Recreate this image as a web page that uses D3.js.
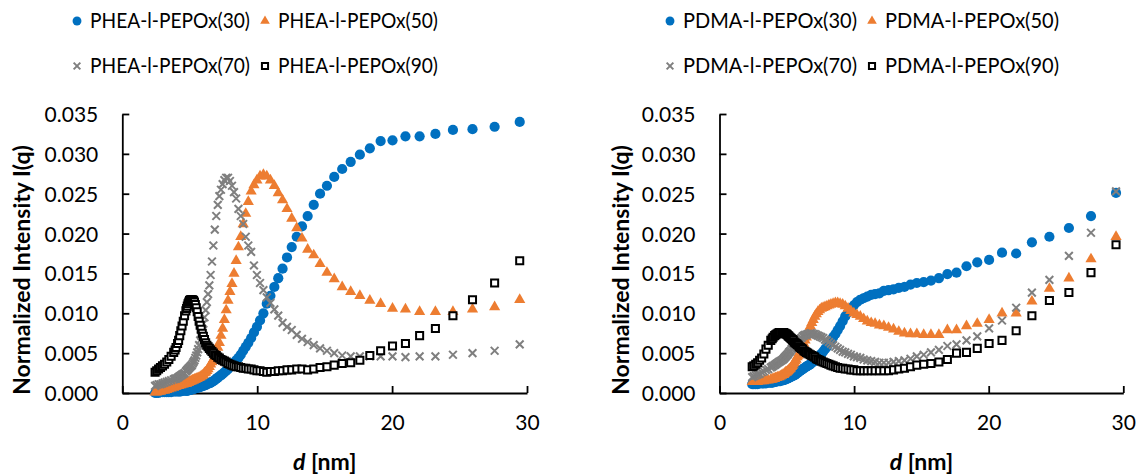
<!DOCTYPE html>
<html lang="en">
<head>
<meta charset="UTF-8" />
<title>SAXS d plot</title>
<script src="https://cdn.jsdelivr.net/npm/d3@7"></script>
<style>
  body { margin: 0; padding: 0; background: #fff; }
  text { font-family: Lato, "Noto Sans", sans-serif; fill: #000; }
</style>
</head>
<body>
<script>
// d spacing of the measured points [nm]
const dGrid = [2.43, 2.55, 2.69, 2.83, 2.98, 3.13, 3.295, 3.45, 3.62, 3.81,
  3.914, 3.985, 4.097, 4.175, 4.257, 4.34, 4.429, 4.52, 4.616, 4.715,
  4.766, 4.819, 4.872, 4.927, 4.983, 5.041, 5.099, 5.159, 5.221, 5.284,
  5.349, 5.415, 5.482, 5.552, 5.623, 5.696, 5.772, 5.849, 5.928, 6.009,
  6.093, 6.179, 6.267, 6.358, 6.452, 6.548, 6.648, 6.750, 6.856, 6.965,
  7.078, 7.194, 7.314, 7.438, 7.567, 7.700, 7.838, 7.98, 8.13, 8.28,
  8.44, 8.61, 8.78, 8.96, 9.15, 9.34, 9.55, 9.76, 9.98, 10.21,
  10.46, 10.71, 10.98, 11.27, 11.56, 11.88, 12.21, 12.56, 12.93, 13.32,
  13.74, 14.19, 14.66, 15.17, 15.71, 16.30, 16.93, 17.61, 18.35, 19.15,
  20.03, 20.99, 22.04, 23.21, 24.51, 25.96, 27.60, 29.46];

// PHEA-l-PEPOx
const phea30 = [0.0000, 0.0000, 0.0000, 0.0001, 0.0001, 0.0001, 0.0001, 0.0001, 0.0001, 0.0002,
  0.0002, 0.0002, 0.0002, 0.0002, 0.0002, 0.0002, 0.0003, 0.0003, 0.0003, 0.0003,
  0.0003, 0.0003, 0.0003, 0.0004, 0.0004, 0.0004, 0.0004, 0.0005, 0.0005, 0.0005,
  0.0006, 0.0006, 0.0006, 0.0007, 0.0007, 0.0007, 0.0008, 0.0008, 0.0009, 0.0009,
  0.0010, 0.0010, 0.0011, 0.0012, 0.0012, 0.0013, 0.0014, 0.0015, 0.0016, 0.0018,
  0.0019, 0.0021, 0.0022, 0.0024, 0.0026, 0.0028, 0.0030, 0.0033, 0.0035, 0.0038,
  0.0041, 0.0044, 0.0048, 0.0053, 0.0058, 0.0063, 0.0069, 0.0076, 0.0083, 0.0091,
  0.0100, 0.0112, 0.0122, 0.0133, 0.0144, 0.0156, 0.0170, 0.0183, 0.0196, 0.0209,
  0.0222, 0.0236, 0.0250, 0.0260, 0.0271, 0.0281, 0.0290, 0.0299, 0.0307, 0.0316,
  0.0317, 0.0322, 0.0322, 0.0325, 0.0330, 0.0331, 0.0334, 0.0340];
const phea50 = [0.0001, 0.0001, 0.0002, 0.0002, 0.0003, 0.0003, 0.0004, 0.0005, 0.0006, 0.0007,
  0.0008, 0.0008, 0.0009, 0.0009, 0.0010, 0.0010, 0.0011, 0.0011, 0.0012, 0.0012,
  0.0012, 0.0013, 0.0013, 0.0013, 0.0014, 0.0014, 0.0015, 0.0015, 0.0016, 0.0016,
  0.0017, 0.0017, 0.0018, 0.0018, 0.0019, 0.0019, 0.0020, 0.0021, 0.0022, 0.0023,
  0.0025, 0.0026, 0.0028, 0.0030, 0.0033, 0.0036, 0.0039, 0.0042, 0.0046, 0.0051,
  0.0057, 0.0063, 0.0072, 0.0081, 0.0092, 0.0104, 0.0116, 0.0127, 0.0137, 0.0150,
  0.0166, 0.0183, 0.0196, 0.0212, 0.0225, 0.0240, 0.0253, 0.0261, 0.0267, 0.0272,
  0.0274, 0.0272, 0.0267, 0.0260, 0.0251, 0.0242, 0.0231, 0.0219, 0.0207, 0.0194,
  0.0180, 0.0173, 0.0162, 0.0151, 0.0143, 0.0133, 0.0127, 0.0122, 0.0116, 0.0112,
  0.0106, 0.0105, 0.0102, 0.0102, 0.0102, 0.0105, 0.0108, 0.0117];
const phea70 = [0.0009, 0.0010, 0.0011, 0.0011, 0.0012, 0.0013, 0.0014, 0.0015, 0.0016, 0.0017,
  0.0018, 0.0018, 0.0019, 0.0020, 0.0021, 0.0022, 0.0023, 0.0024, 0.0025, 0.0027,
  0.0028, 0.0029, 0.0030, 0.0031, 0.0032, 0.0033, 0.0034, 0.0035, 0.0037, 0.0039,
  0.0041, 0.0044, 0.0047, 0.0051, 0.0055, 0.0060, 0.0066, 0.0072, 0.0079, 0.0087,
  0.0095, 0.0104, 0.0114, 0.0124, 0.0135, 0.0148, 0.0165, 0.0185, 0.0205, 0.0222,
  0.0236, 0.0247, 0.0255, 0.0262, 0.0267, 0.0270, 0.0270, 0.0266, 0.0260, 0.0252,
  0.0244, 0.0231, 0.0222, 0.0212, 0.0196, 0.0185, 0.0177, 0.0160, 0.0148, 0.0138,
  0.0129, 0.0120, 0.0113, 0.0105, 0.0097, 0.0088, 0.0083, 0.0079, 0.0073, 0.0068,
  0.0064, 0.0060, 0.0056, 0.0053, 0.0050, 0.0047, 0.0046, 0.0046, 0.0046, 0.0046,
  0.0046, 0.0045, 0.0046, 0.0046, 0.0048, 0.0050, 0.0053, 0.0061];
const phea90 = [0.0026, 0.0028, 0.0030, 0.0032, 0.0034, 0.0036, 0.0039, 0.0042, 0.0046, 0.0051,
  0.0054, 0.0057, 0.0062, 0.0066, 0.0072, 0.0078, 0.0084, 0.0090, 0.0097, 0.0103,
  0.0106, 0.0109, 0.0112, 0.0114, 0.0116, 0.0117, 0.0117, 0.0117, 0.0117, 0.0116,
  0.0114, 0.0111, 0.0107, 0.0102, 0.0096, 0.0090, 0.0085, 0.0080, 0.0075, 0.0071,
  0.0067, 0.0063, 0.0060, 0.0058, 0.0056, 0.0054, 0.0052, 0.0050, 0.0048, 0.0047,
  0.0045, 0.0044, 0.0042, 0.0041, 0.0040, 0.0039, 0.0037, 0.0036, 0.0035, 0.0034,
  0.0033, 0.0033, 0.0032, 0.0031, 0.0031, 0.0030, 0.0030, 0.0029, 0.0028, 0.0028,
  0.0027, 0.0026, 0.0027, 0.0027, 0.0028, 0.0028, 0.0029, 0.0029, 0.0030, 0.0030,
  0.0029, 0.0030, 0.0032, 0.0033, 0.0035, 0.0037, 0.0038, 0.0041, 0.0047, 0.0053,
  0.0059, 0.0062, 0.0072, 0.0081, 0.0097, 0.0117, 0.0138, 0.0166];

// PDMA-l-PEPOx
const pdma30 = [0.0011, 0.0011, 0.0011, 0.0011, 0.0012, 0.0012, 0.0012, 0.0012, 0.0013, 0.0013,
  0.0013, 0.0014, 0.0014, 0.0014, 0.0015, 0.0015, 0.0015, 0.0015, 0.0016, 0.0016,
  0.0016, 0.0017, 0.0017, 0.0017, 0.0018, 0.0018, 0.0019, 0.0019, 0.0020, 0.0020,
  0.0021, 0.0021, 0.0022, 0.0022, 0.0023, 0.0024, 0.0025, 0.0026, 0.0027, 0.0028,
  0.0029, 0.0030, 0.0031, 0.0032, 0.0033, 0.0034, 0.0035, 0.0036, 0.0038, 0.0039,
  0.0041, 0.0043, 0.0045, 0.0047, 0.0049, 0.0052, 0.0055, 0.0058, 0.0062, 0.0066,
  0.0070, 0.0074, 0.0079, 0.0084, 0.0090, 0.0096, 0.0101, 0.0106, 0.0110, 0.0114,
  0.0117, 0.0119, 0.0121, 0.0123, 0.0124, 0.0125, 0.0128, 0.0129, 0.0130, 0.0132,
  0.0133, 0.0136, 0.0138, 0.0139, 0.0141, 0.0144, 0.0149, 0.0151, 0.0159, 0.0164,
  0.0167, 0.0176, 0.0175, 0.0189, 0.0196, 0.0207, 0.0222, 0.0251];
const pdma50 = [0.0014, 0.0014, 0.0014, 0.0014, 0.0015, 0.0015, 0.0015, 0.0016, 0.0016, 0.0017,
  0.0017, 0.0018, 0.0018, 0.0019, 0.0019, 0.0020, 0.0020, 0.0021, 0.0022, 0.0023,
  0.0023, 0.0024, 0.0025, 0.0026, 0.0026, 0.0027, 0.0028, 0.0029, 0.0030, 0.0031,
  0.0033, 0.0034, 0.0036, 0.0038, 0.0040, 0.0042, 0.0045, 0.0047, 0.0050, 0.0052,
  0.0055, 0.0058, 0.0062, 0.0066, 0.0070, 0.0075, 0.0080, 0.0084, 0.0088, 0.0092,
  0.0096, 0.0099, 0.0102, 0.0104, 0.0106, 0.0107, 0.0108, 0.0109, 0.0110, 0.0111,
  0.0112, 0.0113, 0.0113, 0.0112, 0.0111, 0.0109, 0.0106, 0.0103, 0.0100, 0.0098,
  0.0096, 0.0093, 0.0090, 0.0088, 0.0087, 0.0085, 0.0084, 0.0082, 0.0080, 0.0077,
  0.0075, 0.0074, 0.0074, 0.0073, 0.0073, 0.0073, 0.0079, 0.0079, 0.0084, 0.0087,
  0.0092, 0.0100, 0.0100, 0.0115, 0.0131, 0.0144, 0.0168, 0.0196];
const pdma70 = [0.0020, 0.0021, 0.0022, 0.0023, 0.0024, 0.0026, 0.0027, 0.0029, 0.0030, 0.0032,
  0.0033, 0.0034, 0.0035, 0.0036, 0.0037, 0.0038, 0.0039, 0.0040, 0.0041, 0.0042,
  0.0043, 0.0044, 0.0045, 0.0046, 0.0047, 0.0048, 0.0049, 0.0051, 0.0052, 0.0053,
  0.0055, 0.0056, 0.0057, 0.0059, 0.0060, 0.0061, 0.0063, 0.0064, 0.0066, 0.0068,
  0.0069, 0.0071, 0.0072, 0.0073, 0.0073, 0.0074, 0.0074, 0.0075, 0.0075, 0.0074,
  0.0074, 0.0073, 0.0072, 0.0071, 0.0070, 0.0069, 0.0067, 0.0066, 0.0064, 0.0062,
  0.0060, 0.0058, 0.0056, 0.0054, 0.0052, 0.0051, 0.0049, 0.0048, 0.0046, 0.0045,
  0.0044, 0.0042, 0.0041, 0.0040, 0.0039, 0.0038, 0.0038, 0.0038, 0.0039, 0.0040,
  0.0041, 0.0043, 0.0046, 0.0048, 0.0051, 0.0054, 0.0059, 0.0061, 0.0066, 0.0071,
  0.0081, 0.0091, 0.0107, 0.0126, 0.0142, 0.0172, 0.0201, 0.0253];
const pdma90 = [0.0033, 0.0034, 0.0036, 0.0038, 0.0041, 0.0044, 0.0049, 0.0055, 0.0060, 0.0066,
  0.0068, 0.0070, 0.0072, 0.0073, 0.0074, 0.0075, 0.0076, 0.0076, 0.0076, 0.0076,
  0.0076, 0.0075, 0.0075, 0.0074, 0.0074, 0.0073, 0.0072, 0.0071, 0.0070, 0.0069,
  0.0068, 0.0067, 0.0066, 0.0064, 0.0063, 0.0062, 0.0061, 0.0060, 0.0058, 0.0057,
  0.0056, 0.0055, 0.0053, 0.0052, 0.0051, 0.0050, 0.0049, 0.0048, 0.0047, 0.0046,
  0.0045, 0.0043, 0.0042, 0.0041, 0.0040, 0.0039, 0.0038, 0.0037, 0.0036, 0.0035,
  0.0034, 0.0033, 0.0032, 0.0031, 0.0031, 0.0030, 0.0030, 0.0029, 0.0029, 0.0028,
  0.0028, 0.0028, 0.0028, 0.0028, 0.0028, 0.0028, 0.0028, 0.0028, 0.0029, 0.0030,
  0.0031, 0.0033, 0.0035, 0.0036, 0.0037, 0.0039, 0.0042, 0.0050, 0.0051, 0.0056,
  0.0062, 0.0066, 0.0078, 0.0097, 0.0116, 0.0126, 0.0151, 0.0186];

const xTicks = [0, 10, 20, 30];
const yTicks = [0, 0.005, 0.010, 0.015, 0.020, 0.025, 0.030, 0.035];
const pheaLabels = ['PHEA-l-PEPOx(30)', 'PHEA-l-PEPOx(50)', 'PHEA-l-PEPOx(70)', 'PHEA-l-PEPOx(90)'];
const pdmaLabels = ['PDMA-l-PEPOx(30)', 'PDMA-l-PEPOx(50)', 'PDMA-l-PEPOx(70)', 'PDMA-l-PEPOx(90)'];

const W = 1138, H = 474;
const svg = d3.select('body').append('svg')
  .attr('width', W).attr('height', H);

// marker shapes, same order as the series
const timesSymbol = {
  draw(ctx, size) {
    const r = Math.sqrt(size) / 2;
    ctx.moveTo(-r, -r); ctx.lineTo(r, r);
    ctx.moveTo(r, -r); ctx.lineTo(-r, r);
  }
};
const markers = [
  { type: d3.symbolCircle, size: 82, fill: '#0070C0', stroke: 'none', sw: 0 },
  { type: d3.symbolTriangle, size: 54, fill: '#ED7D31', stroke: 'none', sw: 0 },
  { type: timesSymbol, size: 60, fill: 'none', stroke: '#7F7F7F', sw: 2 },
  { type: d3.symbolSquare, size: 50, fill: '#fff', stroke: '#000', sw: 2 }
];

function panel(cfg) {
  const x = d3.scaleLinear().domain([0, 30]).range([cfg.x0, cfg.x1]);
  const y = d3.scaleLinear().domain([0, 0.035]).range([393, 114]);
  const g = svg.append('g');

  // axes with inner ticks like the spreadsheet chart
  const yAxis = d3.axisLeft(y).tickValues(yTicks).tickSizeInner(-7).tickSizeOuter(0)
    .tickFormat(d3.format('.3f'));
  const xAxis = d3.axisBottom(x).tickValues(xTicks).tickSizeInner(-7).tickSizeOuter(0);

  const ya = g.append('g').attr('transform', `translate(${cfg.x0},0)`).call(yAxis);
  const xa = g.append('g').attr('transform', 'translate(0,393)').call(xAxis);
  [ya, xa].forEach(a => {
    a.select('.domain').attr('stroke', '#000').attr('stroke-width', 1.8);
    a.selectAll('.tick line').attr('stroke', '#000').attr('stroke-width', 1.8);
    a.selectAll('text').attr('font-family', 'Lato').attr('font-size', 21).attr('fill', '#000');
  });
  ya.selectAll('text').attr('x', -24).attr('dy', '0.36em');
  xa.selectAll('text').attr('y', 22).attr('dy', '0.71em');

  // axis titles
  g.append('text')
    .attr('transform', `translate(${cfg.titleX},270) rotate(-90)`)
    .attr('text-anchor', 'middle').attr('dy', '0.35em')
    .attr('font-size', 23).attr('font-weight', 'bold')
    .text('Normalized Intensity I(q)');
  const xt = g.append('text')
    .attr('x', (cfg.x0 + cfg.x1) / 2).attr('y', 470)
    .attr('text-anchor', 'middle')
    .attr('font-size', 23).attr('font-weight', 'bold');
  xt.append('tspan').attr('font-style', 'italic').text('d');
  xt.append('tspan').text(' [nm]');

  // series, drawn in legend order so the last one ends on top
  cfg.series.forEach((vals, i) => {
    const m = markers[i];
    const sym = d3.symbol().type(m.type).size(m.size);
    g.append('g').selectAll('path')
      .data(dGrid.map((d, k) => [d, vals[k]]).filter(p => p[1] != null))
      .join('path')
      .attr('transform', p => `translate(${x(p[0])},${y(p[1])})`)
      .attr('d', sym)
      .attr('fill', m.fill)
      .attr('stroke', m.stroke)
      .attr('stroke-width', m.sw);
  });

  // legend, two rows of two
  const lg = g.append('g');
  cfg.labels.forEach((lab, i) => {
    const lx = cfg.legX[i % 2], ly = i < 2 ? 21 : 66;
    const m = markers[i];
    lg.append('path')
      .attr('transform', `translate(${lx},${ly})`)
      .attr('d', d3.symbol().type(m.type).size(m.size * 0.75)())
      .attr('fill', m.fill).attr('stroke', m.stroke).attr('stroke-width', m.sw);
    lg.append('text')
      .attr('x', lx + 13).attr('y', ly).attr('dy', '0.35em')
      .attr('font-size', 20.5)
      .attr('textLength', cfg.legW).attr('lengthAdjust', 'spacingAndGlyphs')
      .text(lab);
  });
}

panel({ x0: 122.3, x1: 527, titleX: 22, legX: [77, 265], legW: 160,
  series: [phea30, phea50, phea70, phea90], labels: pheaLabels });
panel({ x0: 719.5, x1: 1123.3, titleX: 621, legX: [670, 872], legW: 174,
  series: [pdma30, pdma50, pdma70, pdma90], labels: pdmaLabels });
</script>
</body>
</html>
